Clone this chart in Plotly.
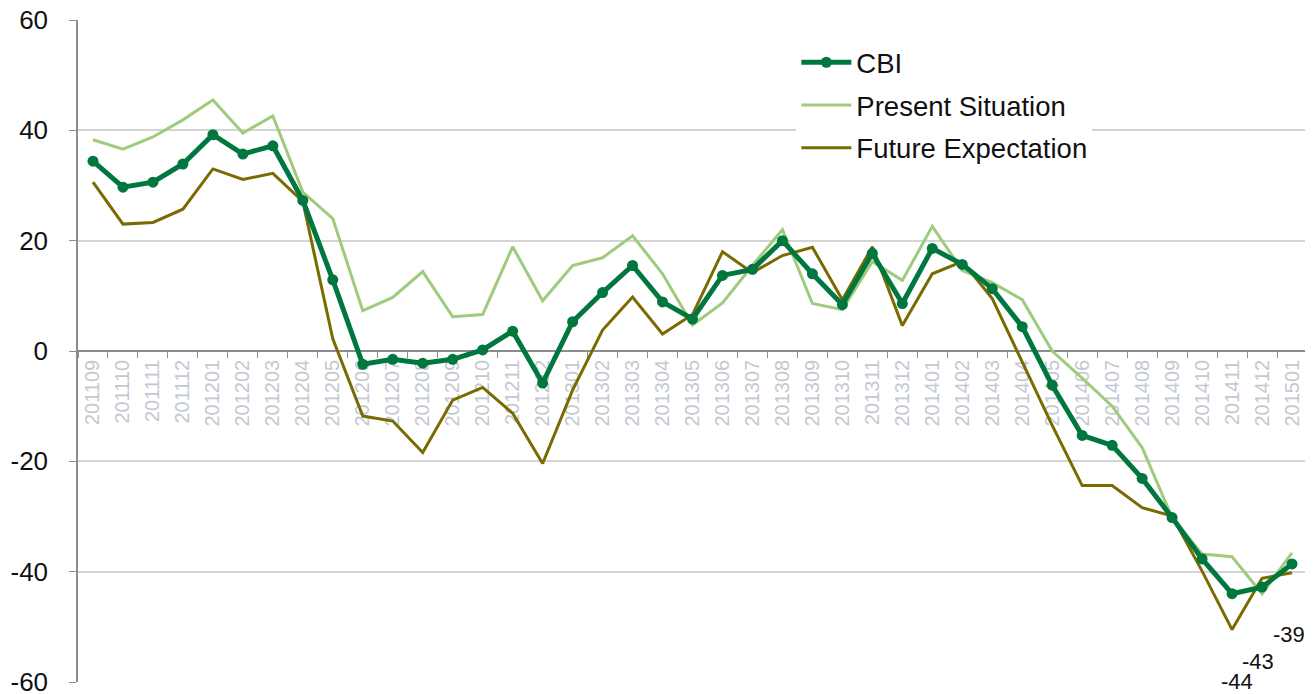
import plotly.graph_objects as go

months = ["201109", "201110", "201111", "201112", "201201", "201202", "201203", "201204",
          "201205", "201206", "201207", "201208", "201209", "201210", "201211", "201212",
          "201301", "201302", "201303", "201304", "201305", "201306", "201307", "201308",
          "201309", "201310", "201311", "201312", "201401", "201402", "201403", "201404",
          "201405", "201406", "201407", "201408", "201409", "201410", "201411", "201412",
          "201501"]

cbi = [34.4, 29.7, 30.6, 33.9, 39.2, 35.7, 37.2, 27.3, 12.9, -2.4, -1.5, -2.2, -1.5, 0.2,
       3.6, -5.8, 5.3, 10.6, 15.5, 8.9, 5.8, 13.7, 14.8, 20.0, 14.0, 8.4, 17.7, 8.6, 18.6,
       15.7, 11.3, 4.4, -6.2, -15.3, -17.1, -23.1, -30.2, -37.7, -44.0, -42.8, -38.6]

present = [38.3, 36.6, 38.8, 41.9, 45.5, 39.5, 42.6, 28.8, 24.0, 7.3, 9.7, 14.4, 6.2, 6.6,
           18.9, 9.1, 15.5, 16.9, 20.9, 14.0, 4.7, 8.7, 15.5, 22.0, 8.6, 7.5, 16.2, 12.8,
           22.6, 14.6, 12.4, 9.3, 0.0, -4.9, -10.0, -17.5, -30.2, -36.8, -37.3, -44.0, -36.6]

future = [30.6, 23.0, 23.3, 25.7, 33.0, 31.1, 32.2, 27.1, 2.2, -11.8, -12.7, -18.4, -8.9,
          -6.6, -11.3, -20.4, -7.1, 3.8, 9.8, 3.1, 6.6, 18.0, 14.2, 17.3, 18.8, 9.3, 18.9,
          4.6, 14.0, 16.2, 9.5, -2.0, -13.5, -24.4, -24.4, -28.4, -29.9, -39.9, -50.5,
          -41.2, -40.2]

y_tickvals = [-60, -40, -20, 0, 20, 40, 60]
y_ticktext = ["-60", "-40", "-20", "0", "20", "40", "60"]

label_months = ["201411", "201412", "201501"]
label_texts = ["-44", "-43", "-39"]
label_xshift = [5, -4, -3]
label_yshift = [-88, -74, -71]

C_CBI = "#00773f"
C_PRES = "#9fcb7d"
C_FUT = "#7a6b00"
FONT = "Liberation Sans, Arial, sans-serif"

fig = go.Figure()
fig.add_trace(go.Scatter(x=months, y=present, name="Present Situation", mode="lines",
                         line=dict(color=C_PRES, width=3), legendrank=2,
                         legendgroup="p", cliponaxis=False))
fig.add_trace(go.Scatter(x=months, y=future, name="Future Expectation", mode="lines",
                         line=dict(color=C_FUT, width=3), legendrank=3,
                         legendgroup="f", cliponaxis=False))
fig.add_trace(go.Scatter(x=months, y=cbi, name="CBI", mode="lines+markers",
                         line=dict(color=C_CBI, width=5),
                         marker=dict(color=C_CBI, size=11), legendrank=1,
                         legendgroup="c", cliponaxis=False))

for m, t, xs, ys in zip(label_months, label_texts, label_xshift, label_yshift):
    i = months.index(m)
    fig.add_annotation(x=i, y=cbi[i], xref="x", yref="y", text=t, showarrow=False,
                       xshift=xs, yshift=ys,
                       font=dict(size=22, color="#111111", family=FONT))

fig.update_layout(
    width=1305, height=686,
    margin=dict(l=70, r=6, t=12, b=12),
    paper_bgcolor="white", plot_bgcolor="white",
    font=dict(family=FONT, color="#111111"),
    showlegend=True,
    legend=dict(x=0.5845, y=0.973, xanchor="left", yanchor="top",
                bgcolor="white", borderwidth=0,
                font=dict(size=27.5, family=FONT, color="#111111"),
                tracegroupgap=4, itemwidth=50),
    xaxis=dict(type="category", anchor="free", position=0.5, automargin=False,
               showline=True, linecolor="#8c8c8c", linewidth=1.5,
               ticks="outside", tickson="boundaries", ticklen=6, tickcolor="#8c8c8c",
               tickangle=-90, showgrid=False, zeroline=False,
               tickfont=dict(size=20, color="#c3c8d2", family=FONT),
               range=[-0.5, len(months) - 0.5], layer="below traces"),
    yaxis=dict(range=[-60, 60], tickvals=y_tickvals, ticktext=y_ticktext,
               automargin=False, ticklabeloverflow="allow",
               showline=True, linecolor="#8c8c8c",
               linewidth=1.5, ticks="outside", ticklen=7, tickcolor="#8c8c8c",
               ticklabelstandoff=16,
               showgrid=True, gridcolor="#d4d4d4", gridwidth=1.5, zeroline=False,
               tickfont=dict(size=26, color="#111111", family=FONT)),
)

fig.write_html("out.html")
